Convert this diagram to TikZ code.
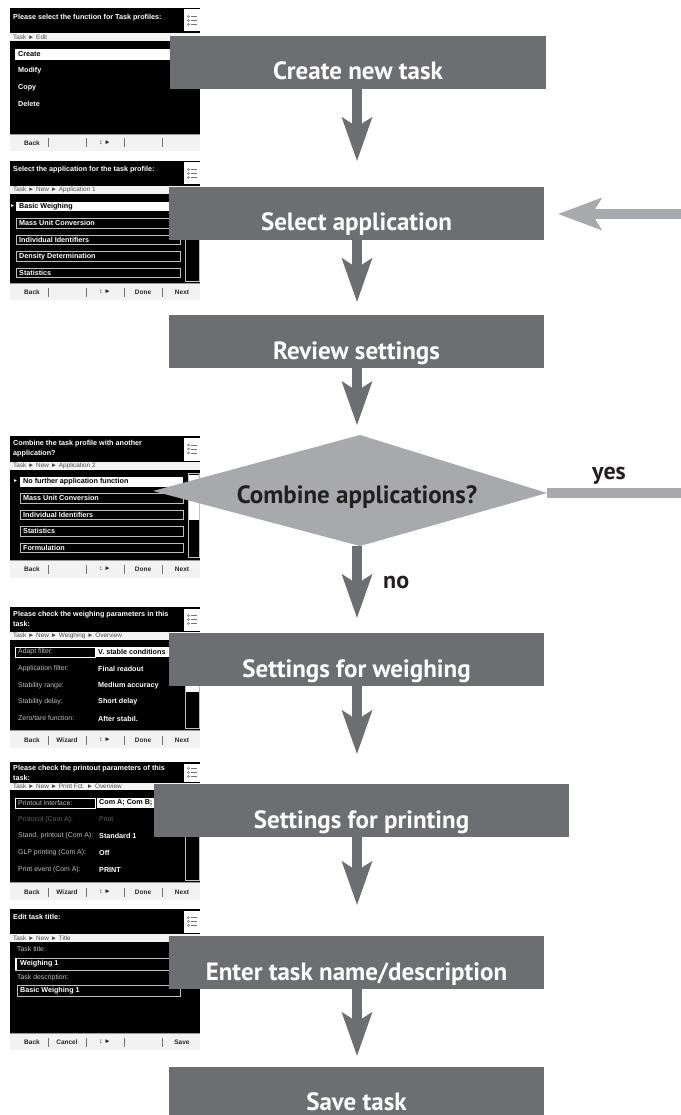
\documentclass[tikz,border=0pt]{standalone}
\usepackage{fontspec}
\usetikzlibrary{arrows.meta}
\newfontfamily\boxf{PT Sans}
\newfontfamily\scrf{Liberation Sans}
\definecolor{boxgray}{HTML}{6D6E71}
\definecolor{lgray}{HTML}{A7A9AC}
\definecolor{ink}{HTML}{231F20}
\definecolor{crumbbg}{HTML}{F4F4F4}
\definecolor{footbg}{HTML}{F2F2F2}

\tikzset{
  box/.style={fill=boxgray, text=white, font=\boxf\bfseries\fontsize{25}{30}\selectfont,
    inner sep=0pt, text height=44pt, text depth=9pt, minimum height=53pt, minimum width=375pt},
  dtext/.style={text=ink, font=\boxf\bfseries\fontsize{25}{30}\selectfont, inner sep=0pt, anchor=base},
  lbl/.style={text=ink, font=\boxf\bfseries\fontsize{24}{28}\selectfont, inner sep=0pt, anchor=base west},
  flow/.style={draw=boxgray, line width=10pt,
    -{Stealth[length=44pt, width=31pt, inset=10pt, line width=0pt]}},
  backflow/.style={draw=lgray, line width=10pt,
    -{Stealth[length=44pt, width=33pt, inset=10pt, line width=0pt]}},
  hd/.style={anchor=west, inner sep=0pt, text=white, font=\scrf\bfseries\fontsize{7.2}{8}\selectfont},
  it/.style={hd, font=\scrf\bfseries\fontsize{7.2}{8}\selectfont},
  sel/.style={it, text=black},
  cr/.style={anchor=west, inner sep=0pt, text=black!70, font=\scrf\fontsize{6.4}{7}\selectfont},
  dim/.style={anchor=west, inner sep=0pt, text=black!25, font=\scrf\fontsize{6.9}{8}\selectfont},
  dimmer/.style={dim, text=black!60},
  fbt/.style={inner sep=0pt, text=black!85, font=\scrf\bfseries\fontsize{6.5}{7}\selectfont},
  mk/.style={inner sep=0pt, text=white, font=\scrf\fontsize{5}{6}\selectfont},
  frm/.style={draw=black!25, line width=0.8pt},
  sepl/.style={draw=black!55, line width=0.7pt},
}

% screen base: top, header bottom, crumb bottom, body bottom, footer bottom
\newcommand\scrbase[5]{%
  \fill[black] (10,#1) rectangle (200,#4);
  \fill[crumbbg] (10,#2) rectangle (200,#3);
  \fill[footbg] (10,#4) rectangle (200,#5);
  \draw[black!40, line width=0.6pt] (10,#4) -- (200,#4);
  \fill[white] (184,#1+1.5) rectangle (199.5,#2-1.5);
  \pgfmathsetmacro\icm{(#1+#2)/2}
  \foreach \dy in {-4,0,4}{
    \draw[black!55, line width=0.5pt] (188.5,\icm+\dy) circle (1.1pt);
    \draw[black!55, line width=0.7pt] (191,\icm+\dy) -- (197,\icm+\dy);
  }
}
% footer: name, y, five labels
\newcommand\scrfoot[7]{%
  \node[fbt] (#1a) at (32,#2) {#3};
  \node[fbt] (#1b) at (67,#2) {#4};
  \node[fbt] (#1c) at (105,#2) {#5};
  \node[fbt] (#1d) at (143,#2) {#6};
  \node[fbt] (#1e) at (182,#2) {#7};
  \foreach \sx in {48,86,124,162}{\draw[sepl] (\sx,#2-4.5) -- (\sx,#2+4.5);}
}

\begin{document}
\begin{tikzpicture}[x=1pt, y=-1pt]
\useasboundingbox (0,0) rectangle (680,1115);

% ---------------- Screen 1
\scrbase{8}{33}{41}{134}{151}
\node[hd] (s1h) at (13,18) {Please select the function for Task profiles:};
\node[cr] (s1c) at (13,37.5) {Task ► Edit};
\fill[white] (15,49) rectangle (195,60);
\node[sel] (s1i1) at (18,54.5) {Create};
\node[it] (s1i2) at (18,71) {Modify};
\node[it] (s1i3) at (18,87.5) {Copy};
\node[it] (s1i4) at (18,104) {Delete};
\scrfoot{s1f}{143}{Back}{}{↕ ►}{}{}

% ---------------- Screen 2
\scrbase{161}{186}{194}{283}{300}
\node[hd] (s2h) at (13,170) {Select the application for the task profile:};
\node[cr] (s2c) at (13,190) {Task ► New ► Application 1};
\draw[frm] (185,196) rectangle (199,281);
\node[mk] (s2m) at (12.5,206.5) {►};
\fill[white] (16,202) rectangle (180,211.5);
\node[sel] (s2i1) at (19,206.8) {Basic Weighing};
\draw[frm] (16,218.5) rectangle (180,228);
\node[it] (s2i2) at (19,223.2) {Mass Unit Conversion};
\draw[frm] (16,235) rectangle (180,244.5);
\node[it] (s2i3) at (19,239.8) {Individual Identifiers};
\draw[frm] (16,251.5) rectangle (180,261);
\node[it] (s2i4) at (19,256.3) {Density Determination};
\draw[frm] (16,268) rectangle (180,277.5);
\node[it] (s2i5) at (19,272.8) {Statistics};
\scrfoot{s2f}{292}{Back}{}{↕ ►}{Done}{Next}

% ---------------- Screen 3
\scrbase{436}{462}{470}{560}{578}
\node[hd] (s3h1) at (13,444) {Combine the task profile with another};
\node[hd] (s3h2) at (13,453.5) {application?};
\node[cr] (s3c) at (13,466) {Task ► New ► Application 2};
\draw[frm] (188,473) rectangle (199.5,557);
\fill[white] (188.5,475) rectangle (199,520);
\node[mk] (s3m) at (15.5,481.5) {►};
\fill[white] (20,477) rectangle (183,486.5);
\node[sel] (s3i1) at (23,481.8) {No further application function};
\draw[frm] (20,493.5) rectangle (183,503);
\node[it] (s3i2) at (23,498.2) {Mass Unit Conversion};
\draw[frm] (20,510) rectangle (183,519.5);
\node[it] (s3i3) at (23,514.8) {Individual Identifiers};
\draw[frm] (20,526.5) rectangle (183,536);
\node[it] (s3i4) at (23,531.3) {Statistics};
\draw[frm] (20,543) rectangle (183,552.5);
\node[it] (s3i5) at (23,547.8) {Formulation};
\scrfoot{s3f}{569}{Back}{}{↕ ►}{Done}{Next}

% ---------------- Screen 4
\scrbase{607}{632}{640}{730}{748}
\node[hd] (s4h1) at (13,615) {Please check the weighing parameters in this};
\node[hd] (s4h2) at (13,624) {task:};
\node[cr] (s4c) at (13,636) {Task ► New ► Weighing ► Overview};
\draw[frm] (185,642) rectangle (199,728);
\fill[white] (185.5,643) rectangle (198.5,692);
\draw[white, line width=0.8pt] (15,647) rectangle (95,657);
\node[dim] (s4l1) at (18,652) {Adapt filter:};
\fill[white] (95,647) rectangle (183,657);
\node[sel] (s4v1) at (98,652) {V. stable conditions};
\node[dim] (s4l2) at (18,669) {Application filter:};
\node[it] (s4v2) at (98,669) {Final readout};
\node[dim] (s4l3) at (18,685.5) {Stability range:};
\node[it] (s4v3) at (98,685.5) {Medium accuracy};
\node[dim] (s4l4) at (18,702) {Stability delay:};
\node[it] (s4v4) at (98,702) {Short delay};
\node[dim] (s4l5) at (18,718.5) {Zero/tare function:};
\node[it] (s4v5) at (98,718.5) {After stabil.};
\scrfoot{s4f}{740}{Back}{Wizard}{↕ ►}{Done}{Next}

% ---------------- Screen 5
\scrbase{762}{783}{790}{882}{900}
\node[hd] (s5h1) at (13,769) {Please check the printout parameters of this};
\node[hd] (s5h2) at (13,777.5) {task:};
\node[cr] (s5c) at (13,786.5) {Task ► New ► Print Fct. ► Overview};
\draw[frm] (185,792) rectangle (199,880);
\draw[white, line width=0.8pt] (15,798) rectangle (95,808);
\node[dim] (s5l1) at (18,803) {Printout interface:};
\fill[white] (97,798) rectangle (183,808);
\node[sel] (s5v1) at (99,803) {Com A; Com B; C};
\node[dimmer] (s5l2) at (18,819.5) {Protocol (Com A):};
\node[dimmer] (s5v2) at (99,819.5) {Print};
\node[dim] (s5l3) at (18,836) {Stand. printout (Com A):};
\node[it] (s5v3) at (99,836) {Standard 1};
\node[dim] (s5l4) at (18,853) {GLP printing (Com A):};
\node[it] (s5v4) at (99,853) {Off};
\node[dim] (s5l5) at (18,870) {Print event (Com A):};
\node[it] (s5v5) at (99,870) {PRINT};
\scrfoot{s5f}{892}{Back}{Wizard}{↕ ►}{Done}{Next}

% ---------------- Screen 6
\scrbase{909}{934}{942}{1033}{1050}
\node[hd] (s6h) at (13,917) {Edit task title:};
\node[cr] (s6c) at (13,938.5) {Task ► New ► Title};
\node[dim] (s6l1) at (17,949) {Task title:};
\draw[frm] (15,958) rectangle (190,970);
\fill[white] (15,958) rectangle (17,970);
\node[it] (s6v1) at (20,964) {Weighing 1};
\node[dim] (s6l2) at (17,977.5) {Task description:};
\draw[frm] (17,985) rectangle (180,996);
\node[it] (s6v2) at (20,990.5) {Basic Weighing 1};
\scrfoot{s6f}{1042}{Back}{Cancel}{↕ ►}{}{Save}

% ---------------- Flow boxes
\coordinate (ax) at (357,0);
\node[box, minimum width=376pt] (n1) at (358,62.5) {Create new task};
\node[box] (n2) at (356.5,213.5) {Select application};
\node[box] (n3) at (356.5,341.5) {Review settings};
\node[box] (n5) at (356.5,659.5) {Settings for weighing};
\node[box, minimum width=415pt] (n6) at (361.5,810.5) {Settings for printing};
\node[box] (n7) at (356.5,962.5) {Enter task name/description};
\node[box, text height=43pt, text depth=5pt, minimum height=48pt] (n8) at (356.5,1091) {Save task};

% decision diamond
\coordinate (dtop) at (360,435);
\coordinate (dright) at (547,493);
\coordinate (dbot) at (360,546);
\coordinate (dleft) at (153,491);
\fill[lgray] (dtop) -- (dright) -- (dbot) -- (dleft) -- cycle;
\node[dtext] (dec) at (357,503) {Combine applications?};

% connectors
\draw[flow, shorten >=26pt] (n1.south -| ax) -- (n2.north -| ax);
\draw[flow, shorten >=13pt] (n2.south -| ax) -- (n3.north -| ax);
\draw[flow, shorten >=10pt] (n3.south -| ax) -- (dtop -| ax);
\draw[flow, shorten >=15pt] (dbot -| ax) -- (n5.north -| ax);
\draw[flow, shorten >=30pt] (n5.south -| ax) -- (n6.north -| ax);
\draw[flow, shorten >=31pt] (n6.south -| ax) -- (n7.north -| ax);
\draw[flow, shorten >=11pt] (n7.south -| ax) -- (n8.north -| ax);

\coordinate (c1) at (687,493);
\coordinate (c2) at (687,214);
\draw[backflow, shorten >=14pt] (dright) -- (c1) -- (c2) -- (n2.east |- c2);

\node[lbl] (yes) at (592,479) {yes};
\node[lbl] (no) at (383,588) {no};
\end{tikzpicture}
\end{document}
